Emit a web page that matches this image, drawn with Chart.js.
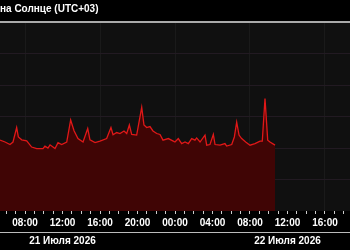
<!DOCTYPE html>
<html>
<head>
<meta charset="utf-8">
<script src="https://cdn.jsdelivr.net/npm/chart.js@4"></script>
<style>
  html, body { margin: 0; padding: 0; background: #000; }
  #wrap { width: 350px; height: 250px; }
</style>
</head>
<body>
<div id="wrap"><canvas id="chartCanvas"></canvas></div>
<script>
// hours counted from 21 July 00:00 (UTC+03)
const hours = [5.33, 5.87, 6.40, 6.72, 7.11, 7.29, 7.65, 8.18, 8.71, 9.25, 9.92, 10.13, 10.45, 10.67,
    11.2, 11.52, 11.91, 12.45, 12.87, 13.23, 13.65, 14.19, 14.69, 14.93, 15.47, 16.0, 16.71, 17.17,
    17.39, 17.78, 18.13, 18.56, 18.85, 19.13, 19.38, 19.91, 20.45, 20.69, 20.98, 21.33, 21.65, 22.05,
    22.4, 22.72, 23.29, 23.82, 24.0, 24.35, 24.71, 25.07, 25.42, 25.78, 26.13, 26.31, 26.67, 27.2,
    27.38, 27.73, 28.09, 28.27, 28.8, 29.33, 29.51, 30.05, 30.33, 30.58, 30.83, 31.11, 31.54, 32.0,
    32.53, 33.07, 33.31, 33.6, 33.89, 34.13, 34.67];
const values = [2.25, 2.19, 2.11, 2.19, 2.65, 2.35, 2.26, 2.23, 2.03, 1.98, 1.98, 2.06, 2.0, 2.10,
    1.98, 2.17, 2.11, 2.19, 2.89, 2.55, 2.30, 2.19, 2.62, 2.26, 2.17, 2.22, 2.30, 2.65,
    2.42, 2.49, 2.46, 2.54, 2.46, 2.73, 2.43, 2.41, 3.29, 2.73, 2.65, 2.68, 2.54, 2.46,
    2.43, 2.25, 2.30, 2.22, 2.19, 2.30, 2.14, 2.19, 2.14, 2.30, 2.25, 2.32, 2.19, 2.41,
    2.09, 2.11, 2.43, 2.11, 2.09, 2.14, 2.06, 2.11, 2.35, 2.82, 2.41, 2.30, 2.19, 2.09,
    2.14, 2.22, 2.22, 3.57, 2.25, 2.19, 2.09];

const labelHours = [8, 12, 16, 20, 24, 28, 32, 36, 40];
const tickLabels = ['08:00', '12:00', '16:00', '20:00', '00:00', '04:00', '08:00', '12:00', '16:00'];
const dayCenters = [12, 36];
const dayLabels = ['21 Июля 2026', '22 Июля 2026'];
const titleText = 'на Солнце (UTC+03)';

const xMin = 5.333, xMax = 42.667;
const fontFace = "'Liberation Sans', Arial, sans-serif";

// dark plot background behind the chart area
const plotBg = {
    id: 'plotBg',
    beforeDraw(chart) {
        const a = chart.chartArea;
        const ctx = chart.ctx;
        ctx.save();
        ctx.fillStyle = '#101010';
        ctx.fillRect(a.left, a.top, a.right - a.left, a.bottom - a.top);
        ctx.restore();
    }
};

new Chart(document.getElementById('chartCanvas'), {
    type: 'line',
    data: {
        datasets: [{
            data: hours.map((h, i) => ({x: h, y: values[i]})),
            borderColor: '#e01818',
            borderWidth: 1.3,
            backgroundColor: 'rgb(64,5,5)',
            fill: 'origin',
            pointRadius: 0,
            tension: 0
        }]
    },
    options: {
        responsive: true,
        maintainAspectRatio: false,
        devicePixelRatio: 1,
        animation: false,
        layout: { padding: 0 },
        plugins: {
            legend: { display: false },
            tooltip: { enabled: false },
            title: {
                display: true,
                text: titleText,
                align: 'start',
                color: '#ffffff',
                font: { family: fontFace, size: 10, weight: 'bold' },
                padding: { top: 3, bottom: 7 }
            }
        },
        scales: {
            x: {
                type: 'linear',
                position: 'bottom',
                min: xMin,
                max: xMax,
                weight: 0,
                afterBuildTicks(scale) {
                    const t = [];
                    for (let h = 6; h <= 42; h++) t.push({value: h});
                    scale.ticks = t;
                },
                ticks: {
                    autoSkip: false,
                    maxRotation: 0,
                    padding: 3,
                    color: '#ffffff',
                    font: { family: fontFace, size: 10, weight: 'bold' },
                    callback: (v) => {
                        const i = labelHours.indexOf(v);
                        return i >= 0 ? tickLabels[i] : '';
                    }
                },
                grid: {
                    color: (c) => (c.tick && c.tick.value % 8 === 0) ? '#1a1a1a' : 'rgba(0,0,0,0)',
                    tickColor: '#cccccc',
                    tickLength: 3
                },
                border: { display: false }
            },
            x2: {
                type: 'linear',
                position: 'bottom',
                min: xMin,
                max: xMax,
                weight: 1,
                afterBuildTicks(scale) {
                    scale.ticks = dayCenters.map(v => ({value: v}));
                },
                ticks: {
                    autoSkip: false,
                    maxRotation: 0,
                    padding: 3,
                    color: '#ffffff',
                    font: { family: fontFace, size: 10, weight: 'bold' },
                    callback: (v) => {
                        const i = dayCenters.indexOf(v);
                        return i >= 0 ? dayLabels[i] : '';
                    }
                },
                grid: { display: false, drawTicks: false },
                border: { display: true, color: '#bbbbbb', width: 1 }
            },
            y: {
                min: 0,
                max: 6,
                ticks: { display: false, stepSize: 1 },
                grid: {
                    drawTicks: false,
                    color: (c) => c.tick.value === 6 ? '#aaaaaa' : (c.tick.value === 0 ? 'rgba(0,0,0,0)' : '#221a22'),
                    lineWidth: (c) => c.tick.value === 6 ? 2 : 1
                },
                border: { display: false }
            }
        }
    },
    plugins: [plotBg]
});
</script>
</body>
</html>
